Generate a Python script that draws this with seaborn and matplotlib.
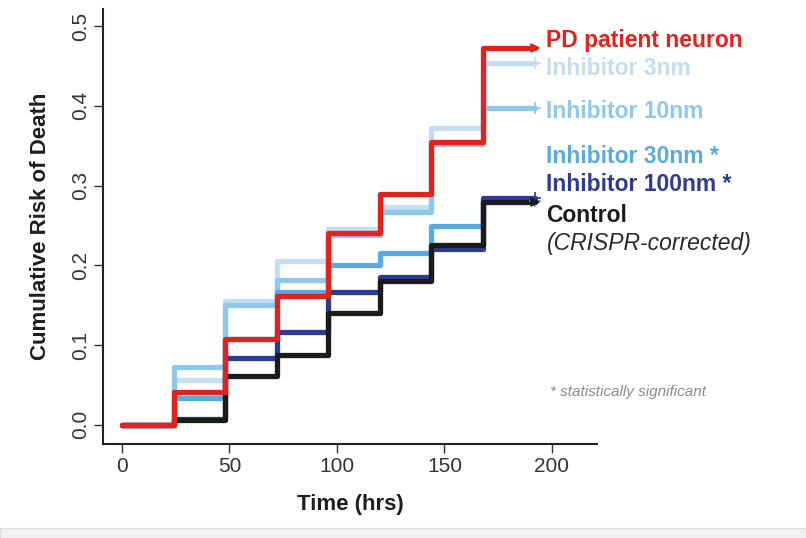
import numpy as np
import pandas as pd
import matplotlib
matplotlib.use("Agg")
import matplotlib.pyplot as plt
import seaborn as sns

# time points (hrs) and cumulative risk per group
times = [0, 24, 48, 72, 96, 120, 144, 168, 192]

pd_neuron = [0, 0.041, 0.108, 0.162, 0.240, 0.289, 0.355, 0.473, 0.473]
inh_3nm   = [0, 0.056, 0.155, 0.205, 0.246, 0.273, 0.372, 0.454, 0.454]
inh_10nm  = [0, 0.072, 0.150, 0.182, 0.238, 0.267, 0.352, 0.397, 0.397]
inh_30nm  = [0, 0.034, 0.108, 0.167, 0.200, 0.215, 0.250, 0.281, 0.281]
inh_100nm = [0, 0.007, 0.084, 0.117, 0.167, 0.186, 0.220, 0.284, 0.284]
control   = [0, 0.006, 0.061, 0.088, 0.140, 0.180, 0.225, 0.280, 0.280]

groups = ["Inhibitor 3nm", "Inhibitor 10nm", "Inhibitor 30nm", "Inhibitor 100nm",
          "Control", "PD patient neuron"]
series = [inh_3nm, inh_10nm, inh_30nm, inh_100nm, control, pd_neuron]

COLORS = {
    "PD patient neuron": "#e2231d",
    "Inhibitor 3nm": "#c5ddf3",
    "Inhibitor 10nm": "#8ec8ee",
    "Inhibitor 30nm": "#5aaadf",
    "Inhibitor 100nm": "#2d3b92",
    "Control": "#1b1b1b",
}
END_MARK = {"PD patient neuron": ">", "Control": ">"}

labels = [
    ("PD patient neuron", "PD patient neuron", "bold", "normal"),
    ("Inhibitor 3nm", "Inhibitor 3nm", "bold", "normal"),
    ("Inhibitor 10nm", "Inhibitor 10nm", "bold", "normal"),
    ("Inhibitor 30nm", "Inhibitor 30nm *", "bold", "normal"),
    ("Inhibitor 100nm", "Inhibitor 100nm *", "bold", "normal"),
    ("Control", "Control", "bold", "normal"),
    ("Control", "(CRISPR-corrected)", "normal", "italic"),
]
label_y = [0.482, 0.447, 0.393, 0.337, 0.302, 0.263, 0.228]

df = pd.DataFrame({
    "time": np.tile(times, len(groups)),
    "risk": np.concatenate(series),
    "group": np.repeat(groups, len(times)),
})

sns.set_style("ticks")
plt.rcParams["font.family"] = ["Liberation Sans", "DejaVu Sans"]

fig = plt.figure(figsize=(8.06, 5.38), dpi=100)
ax = fig.add_axes([0.1278, 0.1747, 0.6129, 0.8093])

sns.lineplot(data=df, x="time", y="risk", hue="group", hue_order=groups,
             palette=COLORS, drawstyle="steps-post", linewidth=3.8,
             estimator=None, legend=False, ax=ax,
             solid_joinstyle="round", solid_capstyle="round")

for g, vals in zip(groups, series):
    ax.plot(times[-1], vals[-1], marker=END_MARK.get(g, "+"),
            color=COLORS[g], markersize=6 if g in END_MARK else 8,
            markeredgewidth=1.2, zorder=5)

for (g, txt, weight, style), y in zip(labels, label_y):
    ax.text(197.5, y, txt, color=COLORS[g] if style == "normal" else "#2a2a2a",
            fontsize=16.5, fontweight=weight, fontstyle=style,
            ha="left", va="center", clip_on=False)

ax.text(199, 0.041, "* statistically significant", color="#8c8c8c",
        fontsize=11, fontstyle="italic", ha="left", va="center")

ax.set_xlim(-8.8, 221)
ax.set_ylim(-0.024, 0.522)
ax.set_xticks([0, 50, 100, 150, 200])
ax.set_yticks([0.0, 0.1, 0.2, 0.3, 0.4, 0.5])
ax.set_yticklabels(["0.0", "0.1", "0.2", "0.3", "0.4", "0.5"], rotation=90, va="center")
ax.tick_params(axis="both", direction="out", length=6.5, width=1.0,
               colors="#333333", labelsize=15, pad=3)
ax.set_xlabel("Time (hrs)", fontsize=16, fontweight="bold", color="#1e1e1e", labelpad=13)
ax.set_ylabel("Cumulative Risk of Death", fontsize=16, fontweight="bold",
              color="#1e1e1e", labelpad=14)
sns.despine(ax=ax)
for side in ["left", "bottom"]:
    ax.spines[side].set_linewidth(1.5)
    ax.spines[side].set_color("#222222")

# light page strip at the very bottom
fig.patches.append(plt.Rectangle((0, 0), 1, 10 / 538, transform=fig.transFigure,
                                 facecolor="#f1f1f1", edgecolor="#dddddd", lw=0.8))

fig.savefig("out.png", dpi=100)
